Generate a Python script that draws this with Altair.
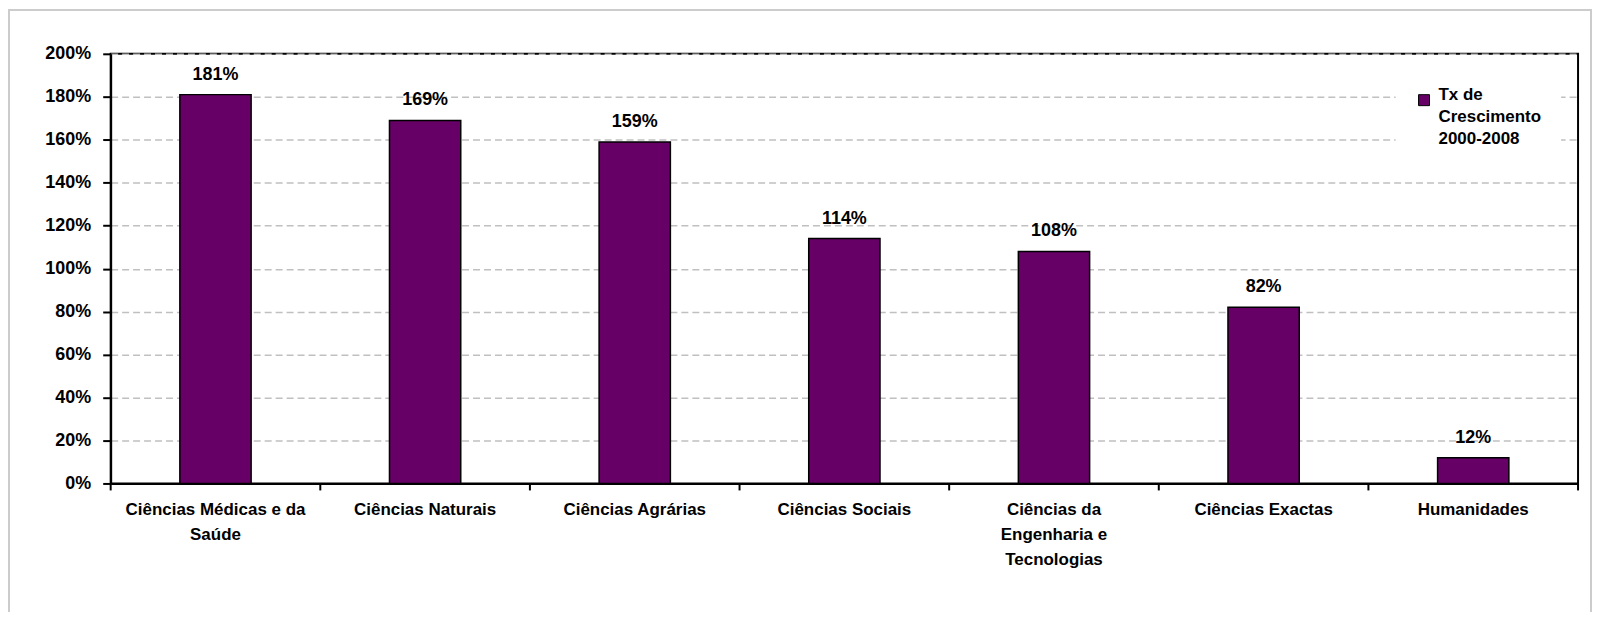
import altair as alt
import pandas as pd

categories = [
    "Ciências Médicas e da\nSaúde",
    "Ciências Naturais",
    "Ciências Agrárias",
    "Ciências Sociais",
    "Ciências da\nEngenharia e\nTecnologias",
    "Ciências Exactas",
    "Humanidades",
]
values = [181, 169, 159, 114, 108, 82, 12]
series_name = "Tx de\nCrescimento\n2000-2008"
y_ticks = [0, 20, 40, 60, 80, 100, 120, 140, 160, 180, 200]

W, H = 1472, 431
FONT = "Liberation Sans"

df = pd.DataFrame({
    "cat": categories,
    "val": [v / 100 for v in values],
    "label": [f"{v}%" for v in values],
    "series": [series_name] * len(categories),
})

xscale = alt.Scale(paddingInner=0.66, paddingOuter=0.33)

base = alt.Chart(df)

bars = base.mark_bar(stroke="black", strokeWidth=1.5).encode(
    x=alt.X("cat:N", sort=None, scale=xscale,
            axis=alt.Axis(title=None, labelAngle=0, ticks=False, domain=True,
                          domainColor="black", domainWidth=2,
                          labelExpr="split(datum.label, '\\n')",
                          labelPadding=18, labelLineHeight=25,
                          labelFontSize=17, labelLimit=300)),
    y=alt.Y("val:Q", scale=alt.Scale(domain=[0, 2]),
            axis=alt.Axis(title=None, format=".0%", values=[t / 100 for t in y_ticks],
                          tickSize=8, tickColor="black", tickWidth=2,
                          domainColor="black", domainWidth=2,
                          labelPadding=12, labelFontSize=18,
                          grid=True, gridColor="#c0c0c0", gridDash=[7, 4],
                          gridWidth=1.5)),
    color=alt.Color("series:N",
                    scale=alt.Scale(range=["#660066"]),
                    legend=alt.Legend(title=None, orient="none",
                                      legendX=1289, legendY=18,
                                      fillColor="white", padding=20,
                                      symbolType="square", symbolSize=121,
                                      symbolStrokeColor="black", symbolStrokeWidth=1,
                                      labelExpr="split(datum.label, '\\n')",
                                      labelFontSize=17, labelBaseline="alphabetic",
                                      labelOffset=6,
                                      labelFont=FONT, labelFontWeight="bold",
                                      labelLimit=300)),
)

texts = base.mark_text(baseline="alphabetic", dy=-15, fontSize=18,
                       font=FONT, fontWeight="bold", color="black").encode(
    x=alt.X("cat:N", sort=None, scale=xscale),
    y="val:Q",
    text="label:N",
)

ticks = base.mark_rule(color="black", strokeWidth=2, xOffset=-69.4).encode(
    x=alt.X("cat:N", sort=None, scale=xscale, bandPosition=0),
    y=alt.value(H),
    y2=alt.value(H + 7),
)

end_tick = alt.Chart(pd.DataFrame({"k": [0]})).mark_rule(color="black", strokeWidth=2).encode(
    x=alt.value(W),
    y=alt.value(H),
    y2=alt.value(H + 7),
)

frame = alt.Chart(pd.DataFrame({"k": [0]})).mark_rect(
    fill="transparent", stroke="#cccccc", strokeWidth=2
).encode(
    x=alt.value(-102), x2=alt.value(W + 13),
    y=alt.value(-44), y2=alt.value(H + 300),
)

chart = alt.layer(frame, bars, texts, ticks, end_tick).properties(
    width=W, height=H,
    autosize=alt.AutoSizeParams(type="none"),
    padding={"left": 103, "top": 45, "right": 14, "bottom": 128},
).configure(
    style={"guide-label": {"lineHeight": 22}}
).configure_view(
    stroke="black", strokeWidth=2
).configure_axis(
    labelFont=FONT, labelFontWeight="bold", labelColor="black"
)

chart.save("out.html", embed_options={"renderer": "svg", "actions": False})
